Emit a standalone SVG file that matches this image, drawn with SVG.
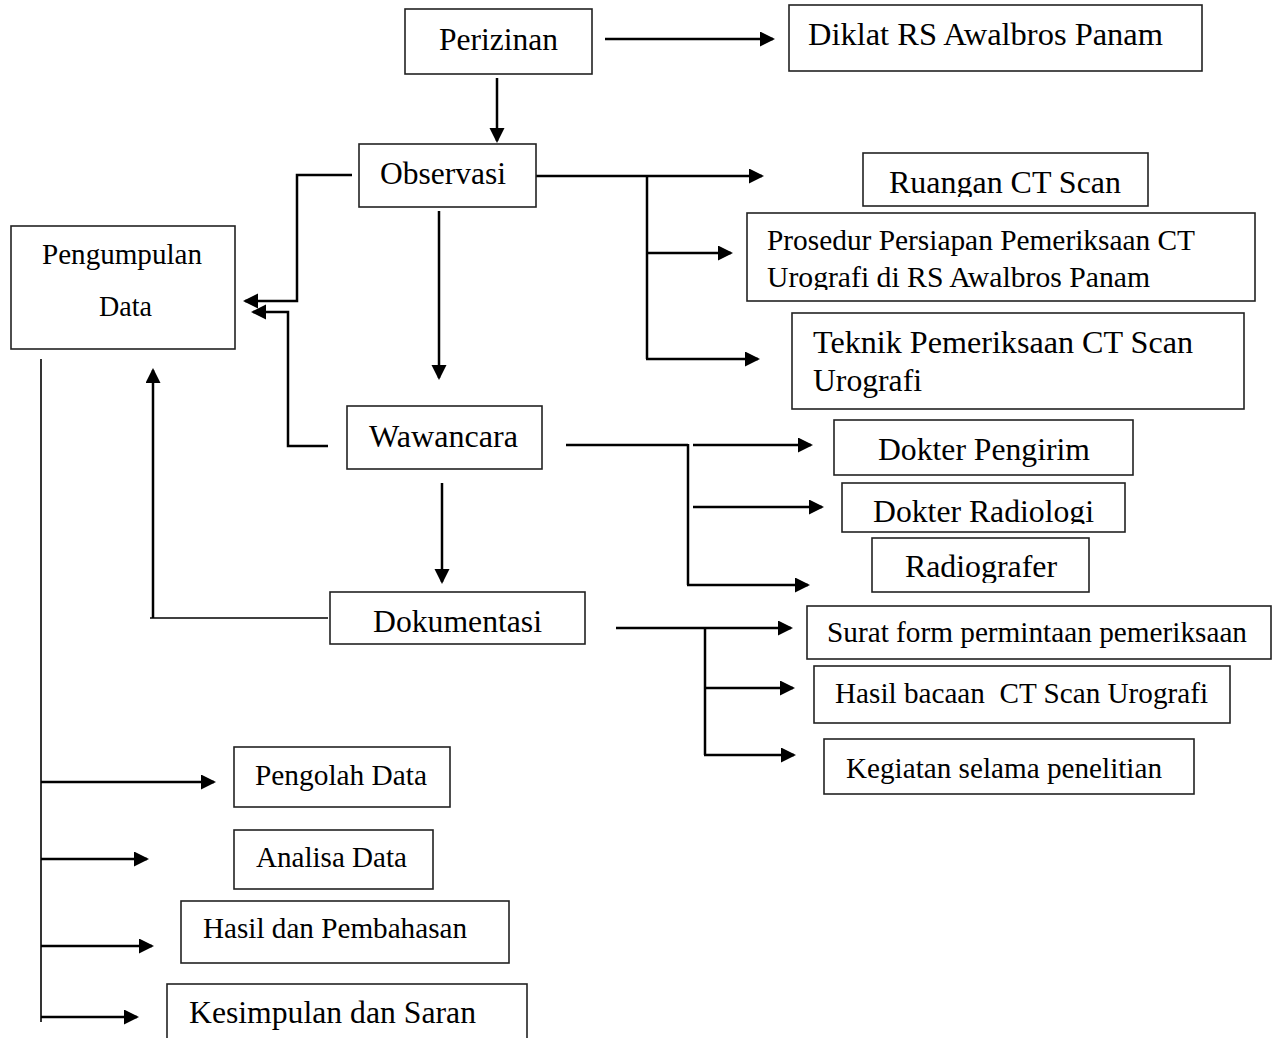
<svg xmlns="http://www.w3.org/2000/svg" width="1280" height="1038" viewBox="0 0 1280 1038">
<style>
.box{fill:#fff;stroke:#222;stroke-width:1.6}
.t{font-family:"Liberation Serif","Times New Roman",serif;fill:#000}
.big{font-size:31.7px}
.sm{font-size:29px}
.ln{stroke:#000;stroke-width:2.5;fill:none}
.thin{stroke:#000;stroke-width:1.6;fill:none}
.arr{marker-end:url(#ah)}
</style>
<defs>
<marker id="ah" markerUnits="userSpaceOnUse" markerWidth="16" markerHeight="16" refX="13" refY="7.5" orient="auto">
<path d="M0,0 L15,7.5 L0,15 z" fill="#000"/>
</marker>
<clipPath id="cRuang"><rect x="860" y="150" width="300" height="47"/></clipPath>
<clipPath id="cPros"><rect x="745" y="210" width="515" height="80"/></clipPath>
<clipPath id="cRad"><rect x="840" y="480" width="290" height="44"/></clipPath>
<clipPath id="cRadg"><rect x="870" y="535" width="225" height="48"/></clipPath>
</defs>
<rect width="1280" height="1038" fill="#fff"/>

<g id="connectors">
<line class="ln arr" x1="605" y1="39" x2="773" y2="39"/>
<line class="ln arr" x1="497" y1="78" x2="497" y2="141"/>
<line class="ln arr" x1="439" y1="211" x2="439" y2="378"/>
<polyline class="ln arr" points="352,175 297,175 297,301 245,301"/>
<polyline class="ln arr" points="328,446 288,446 288,312 253,312"/>
<line class="ln arr" x1="442" y1="483" x2="442" y2="582"/>
<polyline class="thin" points="328,618 150,618"/>
<line class="ln arr" x1="153" y1="618" x2="153" y2="370"/>
<line class="thin" x1="41" y1="359" x2="41" y2="1022"/>
<line class="ln arr" x1="41" y1="782" x2="214" y2="782"/>
<line class="ln arr" x1="41" y1="859" x2="147" y2="859"/>
<line class="ln arr" x1="41" y1="946" x2="152" y2="946"/>
<line class="ln arr" x1="41" y1="1017" x2="137" y2="1017"/>
<line class="ln arr" x1="536" y1="176" x2="762" y2="176"/>
<line class="ln" x1="647" y1="175" x2="647" y2="359"/>
<line class="ln arr" x1="647" y1="253" x2="731" y2="253"/>
<line class="ln arr" x1="646" y1="359" x2="758" y2="359"/>
<line class="ln" x1="566" y1="445" x2="688" y2="445"/>
<line class="ln arr" x1="693" y1="445" x2="811" y2="445"/>
<line class="ln" x1="688" y1="444" x2="688" y2="585"/>
<line class="ln arr" x1="693" y1="507" x2="822" y2="507"/>
<line class="ln arr" x1="687" y1="585" x2="808" y2="585"/>
<line class="ln arr" x1="616" y1="628" x2="791" y2="628"/>
<line class="ln" x1="705" y1="627" x2="705" y2="755"/>
<line class="ln arr" x1="705" y1="688" x2="793" y2="688"/>
<line class="ln arr" x1="704" y1="755" x2="794" y2="755"/>
</g>

<g id="perizinan"><rect class="box" x="405" y="9" width="187" height="65"/><text class="t big" x="439" y="50" textLength="119" lengthAdjust="spacingAndGlyphs">Perizinan</text></g>
<g id="diklat"><rect class="box" x="789" y="5" width="413" height="66"/><text class="t big" x="808" y="45" textLength="355" lengthAdjust="spacingAndGlyphs">Diklat RS Awalbros Panam</text></g>
<g id="observasi"><rect class="box" x="359" y="144" width="177" height="63"/><text class="t big" x="380" y="184" textLength="126" lengthAdjust="spacingAndGlyphs">Observasi</text></g>
<g id="ruangan"><rect class="box" x="863" y="153" width="285" height="53"/><text class="t big" x="889" y="193" textLength="232" lengthAdjust="spacingAndGlyphs" clip-path="url(#cRuang)">Ruangan CT Scan</text></g>
<g id="prosedur"><rect class="box" x="747" y="213" width="508" height="88"/><text class="t sm" x="767" y="250" textLength="428" lengthAdjust="spacingAndGlyphs">Prosedur Persiapan Pemeriksaan CT</text><text class="t sm" x="767" y="287" textLength="383" lengthAdjust="spacingAndGlyphs" clip-path="url(#cPros)">Urografi di RS Awalbros Panam</text></g>
<g id="teknik"><rect class="box" x="792" y="313" width="452" height="96"/><text class="t big" x="813" y="353" textLength="380" lengthAdjust="spacingAndGlyphs">Teknik Pemeriksaan CT Scan</text><text class="t big" x="813" y="391" textLength="109" lengthAdjust="spacingAndGlyphs">Urografi</text></g>
<g id="pengumpulan"><rect class="box" x="11" y="226" width="224" height="123"/><text class="t sm" x="42" y="264" textLength="160" lengthAdjust="spacingAndGlyphs">Pengumpulan</text><text class="t sm" x="99" y="316" textLength="53" lengthAdjust="spacingAndGlyphs">Data</text></g>
<g id="wawancara"><rect class="box" x="347" y="406" width="195" height="63"/><text class="t big" x="369" y="447" textLength="149" lengthAdjust="spacingAndGlyphs">Wawancara</text></g>
<g id="dokumentasi"><rect class="box" x="330" y="592" width="255" height="52"/><text class="t big" x="373" y="632" textLength="169" lengthAdjust="spacingAndGlyphs">Dokumentasi</text></g>
<g id="dokter-pengirim"><rect class="box" x="834" y="420" width="299" height="55"/><text class="t big" x="878" y="460" textLength="212" lengthAdjust="spacingAndGlyphs">Dokter Pengirim</text></g>
<g id="dokter-radiologi"><rect class="box" x="842" y="483" width="283" height="49"/><text class="t big" x="873" y="522" textLength="221" lengthAdjust="spacingAndGlyphs" clip-path="url(#cRad)">Dokter Radiologi</text></g>
<g id="radiografer"><rect class="box" x="872" y="538" width="217" height="54"/><text class="t big" x="905" y="577" textLength="152" lengthAdjust="spacingAndGlyphs" clip-path="url(#cRadg)">Radiografer</text></g>
<g id="surat"><rect class="box" x="807" y="606" width="464" height="53"/><text class="t sm" x="827" y="642" textLength="420" lengthAdjust="spacingAndGlyphs">Surat form permintaan pemeriksaan</text></g>
<g id="hasil-bacaan"><rect class="box" x="814" y="666" width="416" height="57"/><text class="t sm" x="835" y="703" textLength="373" lengthAdjust="spacingAndGlyphs" xml:space="preserve" style="white-space:pre">Hasil bacaan  CT Scan Urografi</text></g>
<g id="kegiatan"><rect class="box" x="824" y="739" width="370" height="55"/><text class="t sm" x="846" y="778" textLength="316" lengthAdjust="spacingAndGlyphs">Kegiatan selama penelitian</text></g>
<g id="pengolah"><rect class="box" x="234" y="747" width="216" height="60"/><text class="t sm" x="255" y="785" textLength="172" lengthAdjust="spacingAndGlyphs">Pengolah Data</text></g>
<g id="analisa"><rect class="box" x="234" y="830" width="199" height="59"/><text class="t sm" x="256" y="867" textLength="151" lengthAdjust="spacingAndGlyphs">Analisa Data</text></g>
<g id="hasil-pembahasan"><rect class="box" x="181" y="901" width="328" height="62"/><text class="t sm" x="203" y="938" textLength="264" lengthAdjust="spacingAndGlyphs">Hasil dan Pembahasan</text></g>
<g id="kesimpulan"><rect class="box" x="167" y="984" width="360" height="70"/><text class="t big" x="189" y="1023" textLength="287" lengthAdjust="spacingAndGlyphs">Kesimpulan dan Saran</text></g>
</svg>
